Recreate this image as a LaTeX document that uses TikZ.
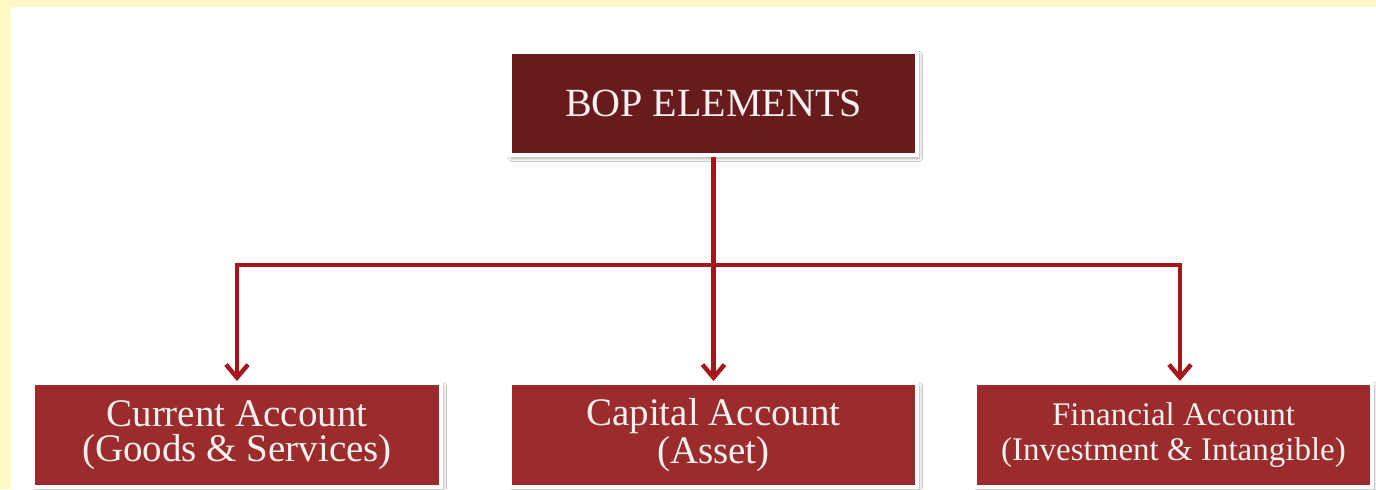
\documentclass[tikz,border=0pt]{standalone}
\usepackage{fontspec}
\setmainfont{Liberation Serif}
\usetikzlibrary{arrows.meta,shadows.blur}
\definecolor{fondo}{HTML}{FFF9C8}
\definecolor{granate}{HTML}{691B1C}
\definecolor{rojizo}{HTML}{9C2B2C}
\definecolor{linea}{HTML}{A3161C}
\definecolor{blanco}{HTML}{F7F1F0}

\begin{document}
\begin{tikzpicture}[x=0.5pt, y=-0.5pt,
    caja/.style={draw=white, line width=2pt, text=blanco, align=center, inner sep=0pt,
        blur shadow={shadow xshift=1pt, shadow yshift=-1.5pt, shadow blur steps=6, shadow opacity=35}},
    titulo/.style={caja, fill=granate, minimum width=203.5pt, minimum height=51.5pt,
        font=\fontsize{20}{22}\selectfont},
    cuenta/.style={caja, fill=rojizo, minimum height=52pt,
        font=\fontsize{19.5}{17.5}\selectfont},
    flecha/.style={draw=linea, line width=2.2pt, line join=miter,
        -{Straight Barb[length=6.5pt, width=11pt, line width=2.2pt]}}]
        % Fondo con borde amarillo
        \useasboundingbox (0,0) rectangle (1376,489);
        \fill[fondo] (0,0) rectangle (1376,489);
        \fill[white] (11,7) rectangle (1376,489);
        % Caja principal
        \node[titulo] (bop) at (713.5,103.5) {BOP ELEMENTS};
        % Cajas de las cuentas
        \node[cuenta, minimum width=204pt] (current) at (237,435)
            {Current Account\\(Goods \& Services)};
        \node[cuenta, minimum width=203.5pt] (capital) at (713.5,435)
            {Capital Account\\(Asset)};
        \node[cuenta, minimum width=198.5pt, font=\fontsize{16.5}{17.5}\selectfont] (financial) at (1173.5,435)
            {Financial Account\\(Investment \& Intangible)};
        % Líneas que conectan la caja principal con las cuentas
        \coordinate (rama) at (1180,265);
        \draw[flecha] (bop.south) -- (capital.north);
        \draw[flecha, {Straight Barb[length=6.5pt, width=11pt, line width=2.2pt]}-{Straight Barb[length=6.5pt, width=11pt, line width=2.2pt]}]
            (current.north) |- (rama) -- (rama |- financial.north);
    \end{tikzpicture}
\end{document}
